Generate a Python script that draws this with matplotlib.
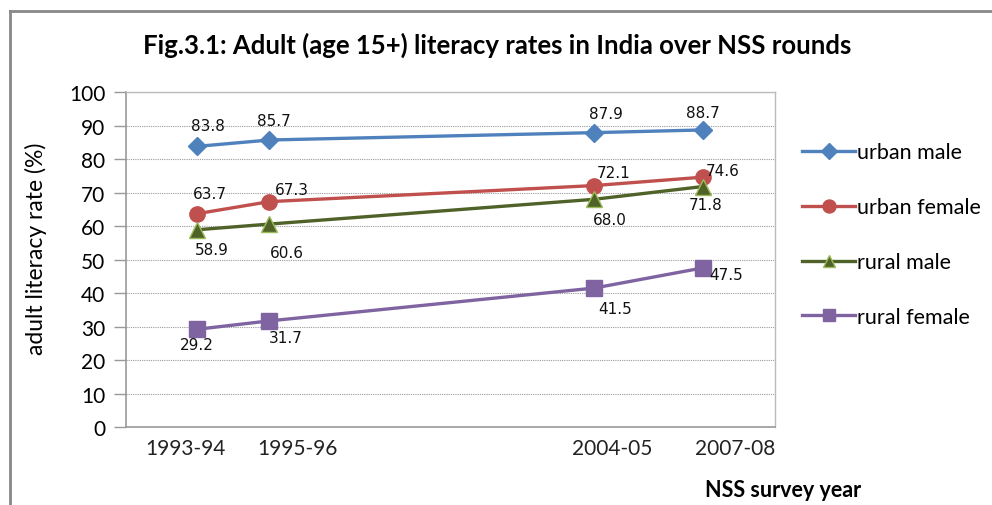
import matplotlib
matplotlib.use("Agg")
import matplotlib.pyplot as plt
from matplotlib.lines import Line2D

# ---- data ----
survey_x = [1993.5, 1995.5, 2004.5, 2007.5]
tick_labels = ["1993-94", "1995-96", "2004-05", "2007-08"]
urban_male = [83.8, 85.7, 87.9, 88.7]
urban_female = [63.7, 67.3, 72.1, 74.6]
rural_male = [58.9, 60.6, 68.0, 71.8]
rural_female = [29.2, 31.7, 41.5, 47.5]
series_names = ["urban male", "urban female", "rural male", "rural female"]

# ---- styling ----
label_font = ["Lato", "DejaVu Sans"]
fig = plt.figure(figsize=(9.92, 5.06), dpi=100)
ax = fig.add_axes([0.127, 0.154, 0.654, 0.662])

styles = [
    dict(color="#4F81BD", marker="D", ms=9, mfc="#4F81BD", mec="#4F81BD"),
    dict(color="#C0504D", marker="o", ms=11, mfc="#C0504D", mec="#C0504D"),
    dict(color="#4F6228", marker="^", ms=11, mfc="#4F6228", mec="#9BBB59"),
    dict(color="#8064A2", marker="s", ms=11, mfc="#8064A2", mec="#8064A2"),
]
data = [urban_male, urban_female, rural_male, rural_female]

# label offsets in pixels (dx, dy)
offsets = [
    [(11, 21), (5, 20), (12, 19), (0, 17)],
    [(13, 20), (23, 12), (19, 13), (20, 7)],
    [(15, -20), (18, -28), (16, -20), (3, -18)],
    [(0, -15), (16, -17), (21, -20), (24, -7)],
]

for vals, st, name, offs in zip(data, styles, series_names, offsets):
    ax.plot(survey_x, vals, color=st["color"], lw=2.4, marker=st["marker"],
            ms=st["ms"], mfc=st["mfc"], mec=st["mec"], mew=1, label=name,
            zorder=3, solid_capstyle="round")
    for x, v, (dx, dy) in zip(survey_x, vals, offs):
        ax.annotate(f"{v:.1f}", (x, v), xytext=(dx, dy), textcoords="offset pixels",
                    ha="center", va="center", fontsize=11, color="#111111",
                    family="DejaVu Sans", zorder=4)

ax.set_xlim(1991.53, 2009.5)
ax.set_ylim(0, 100)
ax.set_yticks(range(0, 101, 10))
ax.yaxis.grid(True, linestyle=(0, (1, 1)), color="#9a9a9a", lw=0.8)
ax.set_axisbelow(True)
ax.tick_params(axis="y", direction="out", length=9, width=1, color="#999999",
               labelsize=15, pad=6)
for lbl in ax.get_yticklabels():
    lbl.set_family(label_font)

# category labels sit slightly off the points, as in the original
label_pos = [1993.17, 1996.27, 2005.0, 2008.4]
ax.set_xticks(label_pos)
ax.set_xticklabels(tick_labels, family=label_font, fontsize=15, color="#222222")
ax.tick_params(axis="x", length=0, pad=8)

for s in ["left", "bottom"]:
    ax.spines[s].set_color("#999999")
    ax.spines[s].set_linewidth(1.2)
for s in ["top", "right"]:
    ax.spines[s].set_color("#bbbbbb")
    ax.spines[s].set_linewidth(1.0)

fig.text(0.036, 0.508, "adult literacy rate (%)", family=label_font, fontsize=16.5,
         rotation=90, ha="center", va="center")
fig.text(0.789, 0.031, "NSS survey year", family=label_font, fontsize=15.5,
         fontweight="bold", ha="center", va="center")
fig.text(0.501, 0.911, "Fig.3.1: Adult (age 15+) literacy rates in India over NSS rounds",
         family=label_font, fontsize=18.5, fontweight="bold", ha="center", va="center")

# legend
handles = [Line2D([0], [0], color=st["color"], lw=2.4, marker=st["marker"],
                  ms=st["ms"] * 0.85, mfc=st["mfc"], mec=st["mec"]) for st in styles]
fig.legend(handles, series_names, loc="upper left", bbox_to_anchor=(0.798, 0.738),
           frameon=False, prop={"family": label_font, "size": 15.5},
           handlelength=2.45, handletextpad=0.1, labelspacing=1.62, borderpad=0)

# outer border (chart frame)
fig.add_artist(Line2D([0.010, 1.0], [1 - 12 / 506, 1 - 12 / 506], color="#888888", lw=2,
                      transform=fig.transFigure))
fig.add_artist(Line2D([0.010, 0.010], [0, 1 - 12 / 506], color="#888888", lw=2,
                      transform=fig.transFigure))

fig.savefig("out.png", dpi=100)
